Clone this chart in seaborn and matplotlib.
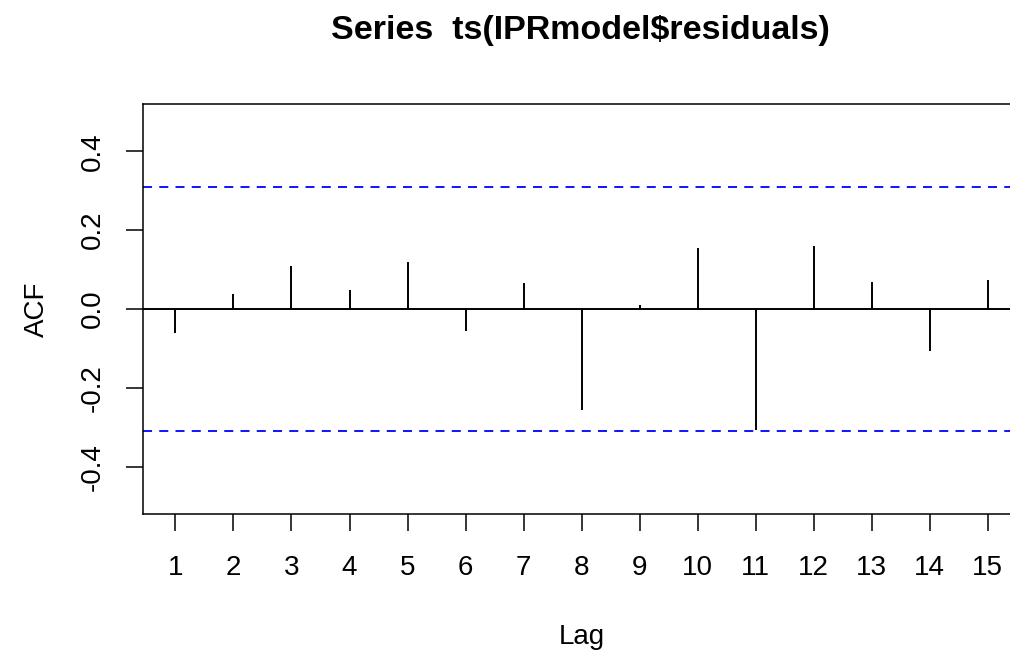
import seaborn as sns
import matplotlib.pyplot as plt
import numpy as np

lags = [1, 2, 3, 4, 5, 6, 7, 8, 9, 10, 11, 12, 13, 14, 15]
acf_vals = [-0.062, 0.037, 0.110, 0.047, 0.119, -0.057, 0.065, -0.257,
            0.010, 0.155, -0.307, 0.161, 0.069, -0.107, 0.074]
ci = 0.31
y_ticks = [-0.4, -0.2, 0.0, 0.2, 0.4]

sns.set_style("ticks")
plt.rcParams['font.family'] = ['Liberation Sans', 'DejaVu Sans']
plt.rcParams['axes.unicode_minus'] = False
for k in ['text.color', 'axes.labelcolor', 'xtick.color', 'ytick.color']:
    plt.rcParams[k] = 'black'

fig = plt.figure(figsize=(10.1, 6.54), dpi=100)
ax = fig.add_axes([0.1416, 0.214, 0.8683, 0.627])

ax.vlines(lags, 0, acf_vals, color='black', lw=1.4)
ax.axhline(0, color='black', lw=1.4)
ax.axhline(ci, color='#0000FF', lw=1.3, linestyle=(0, (5, 4)))
ax.axhline(-ci, color='#0000FF', lw=1.3, linestyle=(0, (5, 4)))

ax.set_xlim(0.44, 15.56)
ax.set_ylim(-0.52, 0.52)
ax.set_xticks(lags)
ax.set_xticklabels([str(l) for l in lags], fontsize=20)
ax.set_yticks(y_ticks)
ax.set_yticklabels(['{:.1f}'.format(v) for v in y_ticks], fontsize=20,
                   rotation=90, va='center')
ax.tick_params(axis='both', length=12.5, width=1.1, color='black')
ax.tick_params(axis='x', pad=17)
ax.tick_params(axis='y', pad=14)
for s in ax.spines.values():
    s.set_linewidth(1.1)
    s.set_color('black')

ax.set_xlabel('Lag', fontsize=20, labelpad=31)
ax.set_ylabel('ACF', fontsize=20, labelpad=22)
fig.text(0.575, 0.953, 'Series  ts(IPRmodel$residuals)', fontsize=24.5,
         fontweight='bold', ha='center', va='center')

fig.savefig('out.png', dpi=100)
